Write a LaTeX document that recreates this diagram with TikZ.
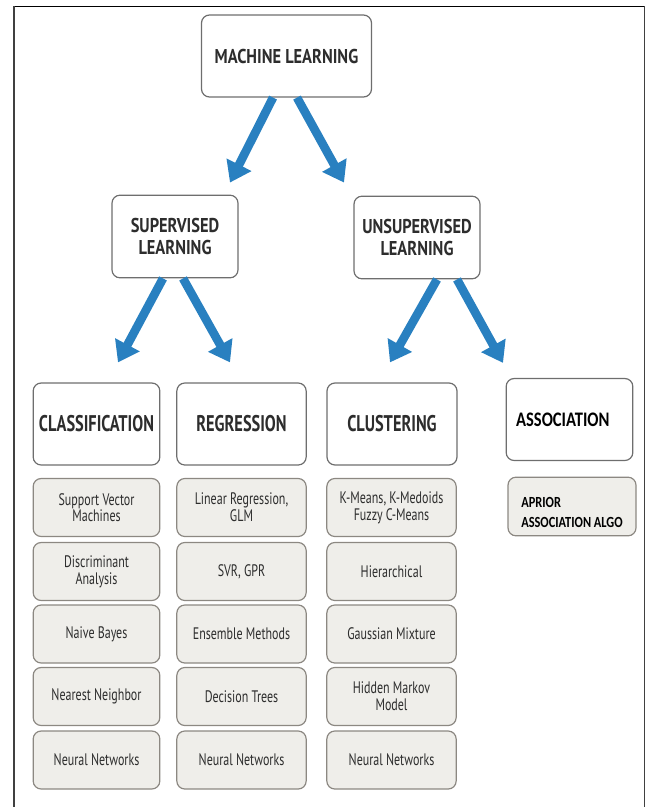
\documentclass[tikz,border=0pt]{standalone}
\usepackage{fontspec}
\usetikzlibrary{arrows.meta,calc}
\newfontfamily\hfont[FakeStretch=0.72]{PT Sans}
\newfontfamily\tfont[FakeStretch=0.82]{PT Sans}
\newfontfamily\calfont[FakeStretch=0.8]{Carlito}
\definecolor{arrowblue}{RGB}{41,128,192}
\definecolor{boxline}{RGB}{110,110,110}
\definecolor{subfill}{RGB}{239,238,234}
\definecolor{subline}{RGB}{140,136,130}
\definecolor{txt}{RGB}{45,45,45}
\tikzset{
  topbox/.style={draw=boxline, line width=0.9pt, rounded corners=6pt, fill=white, align=center,
    text=txt, font=\tfont\bfseries\fontsize{15}{16.5}\selectfont},
  catbox/.style={draw=boxline, line width=0.9pt, rounded corners=6pt, fill=white, align=center,
    text=txt, font=\hfont\bfseries\fontsize{17}{19}\selectfont, minimum height=61.5pt},
  subbox/.style={draw=subline, line width=0.9pt, rounded corners=6pt, fill=subfill, align=center,
    text=txt, font=\hfont\fontsize{12.5}{12.5}\selectfont, minimum height=43.5pt},
  bluearrow/.style={draw=arrowblue, line width=6.5pt, -{Triangle[width=20pt,length=15pt]}}
}
\begin{document}
\begin{tikzpicture}[x=0.75pt,y=-0.75pt]
\useasboundingbox (0,0) rectangle (646,807);
% frame
\draw[black, line width=0.9pt] (13,6.5) -- (645,6.5);
\draw[black!75, line width=1.6pt] (14,6) -- (14,807);
\draw[black!75, line width=1.2pt] (644.5,6) -- (644.5,807);
% top levels
\node[topbox, minimum width=127.5pt, minimum height=61.5pt] (ml) at (286.5,56) {MACHINE LEARNING};
\node[topbox, minimum width=94.5pt, minimum height=62pt] (sup) at (175,236.5) {SUPERVISED\\LEARNING};
\node[topbox, minimum width=94.5pt, minimum height=62pt] (uns) at (417,237.5) {UNSUPERVISED\\LEARNING};
% categories
\node[catbox, minimum width=95pt] (cla) at (96.5,424) {CLASSIFICATION};
\node[catbox, minimum width=97pt] (reg) at (241.5,424) {REGRESSION};
\node[catbox, minimum width=97.5pt] (clu) at (392,424) {CLUSTERING};
\node[catbox, minimum width=95pt, font=\calfont\bfseries\fontsize{15.5}{16}\selectfont, text=black] (ass) at (569.5,419.5) {ASSOCIATION\hspace*{10pt}};
% classification column
\node[subbox, minimum width=95pt] (c1) at (96.5,507.5) {Support Vector\\Machines};
\node[subbox, minimum width=95pt] (c2) at (96.5,571.5) {Discriminant\\Analysis};
\node[subbox, minimum width=95pt] (c3) at (96.5,634) {Naive Bayes};
\node[subbox, minimum width=95pt] (c4) at (96.5,696.5) {Nearest Neighbor};
\node[subbox, minimum width=95pt] (c5) at (96.5,760) {Neural Networks};
% regression column
\node[subbox, minimum width=97pt] (r1) at (241.5,507.5) {Linear Regression,\\GLM};
\node[subbox, minimum width=97pt] (r2) at (241.5,571.5) {SVR, GPR};
\node[subbox, minimum width=97pt] (r3) at (241.5,634) {Ensemble Methods};
\node[subbox, minimum width=97pt] (r4) at (241.5,696.5) {Decision Trees};
\node[subbox, minimum width=97pt] (r5) at (241.5,760) {Neural Networks};
% clustering column
\node[subbox, minimum width=97pt] (k1) at (391.5,507.5) {K-Means, K-Medoids\\Fuzzy C-Means};
\node[subbox, minimum width=97pt] (k2) at (391.5,571.5) {Hierarchical};
\node[subbox, minimum width=97pt] (k3) at (391.5,634) {Gaussian Mixture};
\node[subbox, minimum width=97pt] (k4) at (391.5,696.5) {Hidden Markov\\Model};
\node[subbox, minimum width=97pt] (k5) at (391.5,760) {Neural Networks};
% association
\node[subbox, minimum width=96pt, minimum height=44pt, text=black,
  font=\calfont\bfseries\fontsize{11.6}{15}\selectfont] (a1) at (572,506.5)
  {\raisebox{-8pt}[0pt][0pt]{\begin{tabular}{@{}l@{}}APRIOR\\ASSOCIATION ALGO\end{tabular}}};
% arrows
\draw[bluearrow] ($(ml.south)+(-13.5,0)$) -- ($(sup.north)+(55,-12)$);
\draw[bluearrow] ($(ml.south)+(10.5,0)$) -- ($(uns.north)+(-73,-13)$);
\draw[bluearrow] ($(sup.south)+(-12,0)$) -- ($(cla.north)+(21.5,-20)$);
\draw[bluearrow] ($(sup.south)+(8,0)$) -- ($(reg.north)+(-11.5,-20)$);
\draw[bluearrow] ($(uns.south)+(20,0)$) -- ($(clu.north)+(-2,-20)$);
\draw[bluearrow] ($(uns.south)+(40,0)$) -- ($(ass.north)+(-66.5,-15)$);
\end{tikzpicture}
\end{document}
